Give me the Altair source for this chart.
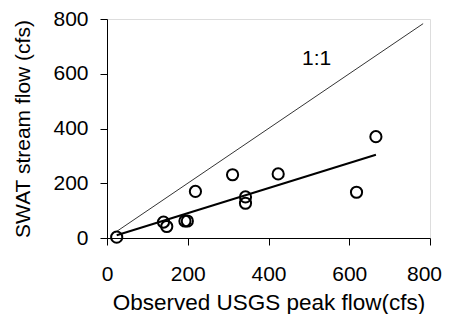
import altair as alt
import pandas as pd

# Observed vs simulated peak flows
observed = [24, 140, 148, 193, 199, 219, 311, 343, 343, 424, 618, 666]
swat = [3, 58, 42, 62, 62, 170, 231, 150, 127, 234, 167, 370]

# Trend line endpoints (linear fit)
trend_x = [24, 666]
trend_y = [10, 304]

# 1:1 reference line endpoints
one_x = [20, 783]
one_y = [20, 783]

label_text = ["1:1"]
label_x = [519]
label_y = [655]

pts = pd.DataFrame({"x": observed, "y": swat})
trend = pd.DataFrame({"x": trend_x, "y": trend_y})
one = pd.DataFrame({"x": one_x, "y": one_y})
lab = pd.DataFrame({"x": label_x, "y": label_y, "t": label_text})

FONT = "Liberation Sans"

xs = alt.Scale(domain=[0, 800], nice=False, zero=False)
ys = alt.Scale(domain=[0, 800], nice=False, zero=False)

xax = alt.Axis(values=[0, 200, 400, 600, 800], title="Observed USGS peak flow(cfs)",
               grid=False, domainColor="black", tickColor="black", tickSize=7,
               labelFontSize=21, titleFontSize=22.5, labelFont=FONT, titleFont=FONT,
               labelColor="black", titleColor="black", titleFontWeight="normal",
               labelPadding=18, titlePadding=7, labelFlush=False,
               labelOffset=alt.ExprRef("datum.value == 800 ? -6 : 0"))
yax = alt.Axis(values=[0, 200, 400, 600, 800], title="SWAT stream flow (cfs)",
               grid=False, domainColor="black", tickColor="black", tickSize=7,
               labelFontSize=21, titleFontSize=21, labelFont=FONT, titleFont=FONT,
               labelColor="black", titleColor="black", titleFontWeight="normal",
               labelPadding=12, titlePadding=19, labelFlush=False)

base_x = alt.X("x:Q", scale=xs, axis=xax)
base_y = alt.Y("y:Q", scale=ys, axis=yax)

one_line = alt.Chart(one).mark_line(color="black", strokeWidth=0.8).encode(
    x=base_x, y=base_y)
trend_line = alt.Chart(trend).mark_line(color="black", strokeWidth=2).encode(
    x="x:Q", y="y:Q")
points = alt.Chart(pts).mark_point(shape="circle", filled=False, color="black",
                                    size=125, strokeWidth=2, opacity=1).encode(
    x="x:Q", y="y:Q")
text = alt.Chart(lab).mark_text(font=FONT, fontSize=21, color="black").encode(
    x="x:Q", y="y:Q", text="t:N")

chart = alt.layer(one_line, trend_line, points, text).properties(
    width=323, height=219,
    autosize=alt.AutoSizeParams(type="none"),
    padding={"left": 99, "top": 11, "right": 12, "bottom": 76},
).configure_view(stroke="#888888", strokeWidth=1.3).configure(background="white")

chart.save("out.html", embed_options={"renderer": "svg", "actions": False})
